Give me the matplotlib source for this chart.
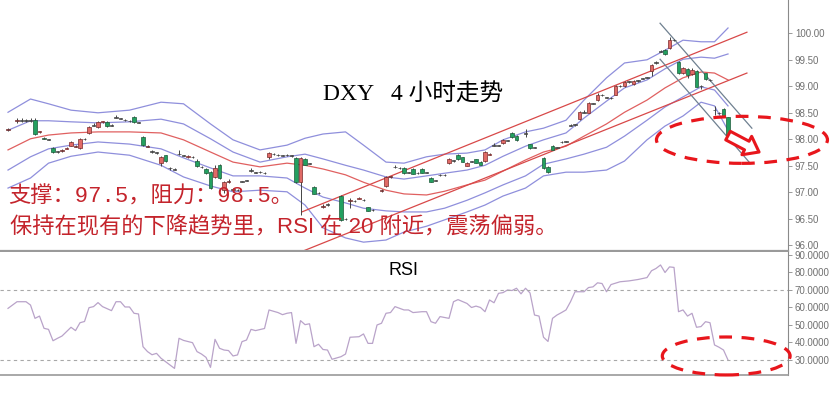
import numpy as np
import matplotlib
matplotlib.use('Agg')
import matplotlib.pyplot as plt
from matplotlib.patches import Ellipse, FancyArrowPatch
from matplotlib.ticker import FormatStrFormatter

plt.rcParams['font.family'] = ['Liberation Sans', 'Noto Sans CJK SC']

# DXY 4h candles: bar number, open, high, low, close
bar = [0, 2, 3, 4, 5, 6, 7, 8, 9, 10, 11, 12, 13, 14, 15, 16, 17, 18, 19, 20,
       21, 22, 23, 24, 25, 26, 27, 28, 29, 30, 31, 32, 33, 34, 35, 36, 37, 38, 39, 40,
       41, 42, 43, 44, 45, 46, 47, 48, 49, 50, 51, 52, 53, 54, 55, 56, 57, 58, 59, 60,
       61, 62, 63, 64, 65, 66, 67, 68, 69, 70, 71, 74, 75, 76, 77, 78, 79, 80, 81, 83,
       84, 85, 86, 87, 88, 89, 90, 91, 92, 93, 94, 95, 96, 97, 98, 99, 100, 101, 102, 103,
       104, 105, 106, 107, 108, 109, 110, 111, 112, 113, 115, 116, 117, 119, 120, 121, 122, 123, 124, 125,
       126, 127, 128, 129, 130, 131, 132, 133, 134, 135, 136, 137, 138, 139, 140, 141, 142, 143, 144, 145,
       146, 147, 148, 149, 150, 151, 152, 153, 154, 155, 156, 157, 158, 159, 160]
opens = [98.17, 98.34, 98.36, 98.36, 98.35, 98.37, 98.13, 98.03, 97.99, 97.84, 97.77, 97.78, 97.82, 97.88, 97.86, 97.83, 98.00, 98.12, 98.26, 98.23,
         98.32, 98.33, 98.26, 98.41, 98.40, 98.36, 98.34, 98.42, 98.32, 98.04, 97.86, 97.76, 97.75, 97.55, 97.70, 97.45, 97.44, 97.72, 97.70, 97.66,
         97.67, 97.60, 97.48, 97.44, 97.38, 97.29, 97.52, 97.04, 97.19, 97.06, 97.05, 97.20, 97.23, 97.40, 97.38, 97.38, 97.37, 97.67, 97.72, 97.70,
         97.70, 97.70, 97.70, 97.65, 97.20, 97.63, 97.55, 97.10, 96.98, 96.73, 96.76, 96.93, 96.49, 96.83, 96.84, 96.88, 96.86, 96.72, 96.67, 97.03,
         97.12, 97.28, 97.47, 97.46, 97.46, 97.37, 97.44, 97.36, 97.44, 97.38, 97.27, 97.22, 97.32, 97.33, 97.55, 97.59, 97.70, 97.66, 97.50, 97.58,
         97.62, 97.58, 97.59, 97.71, 97.88, 97.89, 97.93, 97.97, 98.12, 98.07, 98.10, 97.91, 97.84, 97.65, 97.48, 97.88, 97.85, 97.94, 97.95, 98.26,
         98.27, 98.38, 98.50, 98.50, 98.67, 98.74, 98.84, 98.78, 98.78, 98.84, 99.00, 99.00, 99.08, 99.04, 99.10, 99.15, 99.17, 99.29, 99.44, 99.65,
         99.68, 99.72, 99.87, 99.46, 99.25, 99.33, 99.23, 99.29, 99.00, 99.25, 99.12, 98.55, 98.50, 98.58, 98.42]
highs = [98.21, 98.40, 98.40, 98.39, 98.40, 98.40, 98.16, 98.05, 98.01, 97.86, 97.78, 97.81, 97.86, 97.96, 97.89, 98.02, 98.02, 98.25, 98.30, 98.35,
         98.35, 98.34, 98.28, 98.45, 98.41, 98.38, 98.36, 98.44, 98.33, 98.06, 97.89, 97.80, 97.76, 97.68, 97.71, 97.48, 97.45, 97.80, 97.71, 97.70,
         97.68, 97.62, 97.49, 97.45, 97.40, 97.52, 97.54, 97.22, 97.25, 97.08, 97.06, 97.22, 97.24, 97.45, 97.39, 97.40, 97.38, 97.76, 97.74, 97.73,
         97.71, 97.72, 97.71, 97.67, 97.67, 97.64, 97.56, 97.11, 97.00, 96.78, 96.79, 96.95, 96.52, 96.90, 96.85, 96.91, 96.87, 96.73, 96.68, 97.06,
         97.31, 97.31, 97.52, 97.47, 97.48, 97.39, 97.45, 97.38, 97.45, 97.39, 97.28, 97.24, 97.34, 97.34, 97.64, 97.61, 97.72, 97.67, 97.57, 97.60,
         97.63, 97.59, 97.78, 97.74, 97.93, 97.90, 98.00, 97.99, 98.13, 98.08, 98.20, 97.92, 97.86, 97.67, 97.49, 97.89, 97.86, 97.96, 97.97, 98.28,
         98.29, 98.53, 98.55, 98.70, 98.69, 98.87, 98.85, 98.80, 98.79, 99.02, 99.02, 99.10, 99.10, 99.11, 99.12, 99.16, 99.18, 99.42, 99.48, 99.68,
         99.70, 99.93, 99.90, 99.47, 99.36, 99.34, 99.35, 99.30, 99.02, 99.26, 99.13, 98.62, 98.52, 98.60, 98.43]
lows = [98.15, 98.31, 98.32, 98.32, 98.33, 98.08, 98.12, 98.00, 97.98, 97.74, 97.75, 97.77, 97.81, 97.87, 97.85, 97.82, 97.99, 98.10, 98.25, 98.22,
        98.31, 98.24, 98.25, 98.40, 98.38, 98.35, 98.33, 98.31, 98.30, 97.88, 97.85, 97.74, 97.73, 97.50, 97.58, 97.43, 97.42, 97.70, 97.68, 97.64,
        97.65, 97.48, 97.46, 97.35, 97.06, 97.27, 97.25, 96.98, 97.18, 97.00, 97.03, 97.19, 97.21, 97.39, 97.36, 97.37, 97.35, 97.63, 97.71, 97.69,
        97.68, 97.69, 97.66, 97.18, 96.57, 97.51, 97.53, 96.96, 96.97, 96.70, 96.75, 96.45, 96.47, 96.70, 96.82, 96.87, 96.84, 96.64, 96.65, 97.00,
        97.10, 97.27, 97.46, 97.44, 97.35, 97.36, 97.34, 97.35, 97.36, 97.36, 97.19, 97.21, 97.31, 97.31, 97.54, 97.58, 97.61, 97.57, 97.49, 97.57,
        97.55, 97.51, 97.58, 97.70, 97.87, 97.87, 97.92, 97.96, 98.03, 97.97, 98.05, 97.82, 97.83, 97.44, 97.37, 97.79, 97.83, 97.93, 97.94, 98.25,
        98.26, 98.37, 98.49, 98.49, 98.66, 98.73, 98.82, 98.77, 98.76, 98.83, 98.99, 98.99, 99.07, 99.03, 99.09, 99.13, 99.15, 99.20, 99.43, 99.64,
        99.59, 99.71, 99.86, 99.24, 99.24, 99.16, 99.22, 98.98, 98.95, 99.12, 99.10, 98.45, 98.48, 98.43, 98.03]
closes = [98.19, 98.36, 98.35, 98.35, 98.36, 98.10, 98.15, 98.01, 98.00, 97.76, 97.76, 97.80, 97.84, 97.95, 97.88, 98.00, 98.01, 98.23, 98.27, 98.33,
          98.34, 98.25, 98.27, 98.42, 98.39, 98.37, 98.35, 98.33, 98.31, 97.90, 97.88, 97.77, 97.74, 97.66, 97.60, 97.46, 97.43, 97.73, 97.69, 97.68,
          97.66, 97.50, 97.47, 97.36, 97.08, 97.46, 97.27, 97.20, 97.21, 97.05, 97.04, 97.21, 97.22, 97.41, 97.37, 97.39, 97.36, 97.74, 97.73, 97.71,
          97.69, 97.71, 97.69, 97.20, 97.65, 97.52, 97.54, 96.97, 96.99, 96.75, 96.77, 96.48, 96.50, 96.85, 96.83, 96.90, 96.85, 96.65, 96.66, 97.05,
          97.29, 97.30, 97.48, 97.45, 97.36, 97.38, 97.35, 97.37, 97.37, 97.37, 97.20, 97.23, 97.33, 97.32, 97.62, 97.60, 97.62, 97.58, 97.56, 97.59,
          97.56, 97.52, 97.76, 97.73, 97.89, 97.88, 97.98, 97.98, 98.04, 97.98, 98.11, 97.83, 97.85, 97.45, 97.38, 97.80, 97.84, 97.95, 97.96, 98.27,
          98.28, 98.51, 98.51, 98.68, 98.68, 98.84, 98.83, 98.79, 98.77, 99.00, 99.01, 99.08, 99.09, 99.10, 99.11, 99.14, 99.16, 99.40, 99.45, 99.66,
          99.60, 99.87, 99.88, 99.25, 99.35, 99.21, 99.31, 98.99, 99.01, 99.13, 99.11, 98.56, 98.49, 98.44, 98.04]

# bollinger lines
band_bar = [0, 5, 9, 14, 20, 27, 34, 39, 45, 50, 56, 62, 66, 70, 75, 79, 84, 88, 93, 97,
            102, 106, 110, 115, 119, 124, 128, 133, 137, 142, 146, 150, 154, 157, 160]
band_up2 = [98.51, 98.76, 98.67, 98.55, 98.50, 98.55, 98.70, 98.67, 98.29, 97.99, 97.80, 97.89, 98.02, 98.10, 98.14, 97.89, 97.57, 97.55, 97.67, 97.72,
            97.74, 97.80, 97.99, 98.14, 98.21, 98.36, 98.74, 99.16, 99.44, 99.50, 99.68, 99.87, 99.84, 99.84, 100.10]
band_up1 = [98.17, 98.35, 98.35, 98.33, 98.31, 98.33, 98.38, 98.29, 98.01, 97.76, 97.57, 97.67, 97.72, 97.63, 97.51, 97.42, 97.29, 97.25, 97.31, 97.36,
            97.42, 97.51, 97.68, 97.87, 97.99, 98.12, 98.40, 98.72, 98.97, 99.12, 99.33, 99.51, 99.55, 99.53, 99.61]
band_mid = [97.80, 98.01, 98.08, 98.12, 98.14, 98.14, 98.12, 97.99, 97.76, 97.57, 97.48, 97.55, 97.51, 97.44, 97.33, 97.19, 97.04, 96.97, 96.95, 97.02,
            97.14, 97.23, 97.40, 97.61, 97.76, 97.87, 98.06, 98.29, 98.51, 98.74, 98.97, 99.16, 99.27, 99.25, 99.12]
band_lo1 = [97.42, 97.67, 97.82, 97.89, 97.95, 97.91, 97.82, 97.65, 97.46, 97.31, 97.31, 97.27, 97.08, 96.91, 96.80, 96.70, 96.65, 96.63, 96.63, 96.70,
            96.85, 96.99, 97.14, 97.31, 97.53, 97.63, 97.72, 97.85, 98.06, 98.36, 98.61, 98.80, 98.99, 98.93, 98.63]
band_lo2 = [97.08, 97.27, 97.55, 97.68, 97.76, 97.70, 97.51, 97.29, 97.12, 97.01, 97.04, 97.01, 96.76, 96.33, 96.14, 96.06, 96.10, 96.25, 96.36, 96.48,
            96.63, 96.76, 96.93, 97.08, 97.31, 97.38, 97.38, 97.42, 97.59, 97.99, 98.25, 98.44, 98.70, 98.63, 98.17]

# hand drawn trend lines (bar, price)
chan_top = ([65.3, 164.2], [96.63, 100.02])
chan_bot = ([64.9, 164.2], [95.87, 99.25])
fall_top = ([144.9, 165.3], [100.19, 98.21])
fall_bot = ([144.9, 164.9], [99.51, 97.55])

# RSI
rsi_bar = [0, 2, 4, 5, 6, 7, 8, 9, 10, 11, 12, 14, 15, 16, 17, 18, 19, 20, 21, 23,
           24, 25, 26, 27, 28, 29, 30, 31, 32, 33, 34, 36, 37, 38, 39, 41, 42, 43, 44, 45,
           46, 47, 48, 49, 50, 51, 52, 53, 54, 55, 57, 58, 60, 61, 62, 63, 64, 65, 66, 67,
           68, 69, 70, 71, 72, 74, 75, 76, 78, 79, 80, 81, 82, 83, 84, 85, 86, 88, 89, 90,
           92, 93, 94, 95, 96, 98, 99, 100, 102, 103, 104, 105, 106, 107, 108, 109, 110, 111, 112, 113,
           114, 115, 116, 117, 118, 119, 120, 121, 122, 123, 124, 125, 126, 128, 129, 130, 131, 132, 133, 134,
           136, 138, 140, 142, 143, 144, 145, 146, 147, 148, 149, 150, 151, 152, 153, 154, 155, 156, 157, 158,
           159, 160]
rsi_val = [59.5, 63.3, 63.3, 61.4, 53.8, 55.1, 48.1, 47.5, 41.0, 42.4, 43.7, 48.7, 46.8, 51.3, 52.0, 59.9, 60.5, 62.8, 60.5, 58.2,
           63.3, 63.3, 60.3, 60.3, 56.7, 56.3, 37.6, 34.8, 33.0, 33.8, 31.0, 27.1, 25.2, 42.4, 41.2, 39.9, 34.8, 33.4, 31.5, 25.8,
           41.8, 36.7, 35.7, 35.4, 32.3, 32.9, 40.5, 41.4, 47.5, 46.8, 48.0, 58.6, 57.1, 55.9, 56.7, 57.1, 39.5, 52.5, 50.2, 50.7,
           37.6, 39.0, 36.0, 35.7, 30.4, 31.9, 33.4, 43.0, 43.3, 44.9, 39.5, 39.5, 50.0, 51.0, 56.7, 57.1, 60.5, 58.6, 58.6, 57.1,
           57.6, 57.6, 51.9, 51.0, 54.8, 53.8, 63.3, 64.5, 62.3, 60.0, 60.8, 60.0, 57.6, 64.3, 62.7, 68.1, 68.5, 70.0, 69.7, 71.0,
           67.8, 71.0, 68.3, 55.7, 55.1, 43.0, 40.6, 53.8, 55.7, 57.1, 58.6, 63.3, 69.0, 69.0, 71.4, 71.8, 74.1, 73.7, 69.0, 73.1,
           74.7, 75.2, 76.0, 77.1, 81.0, 82.3, 84.3, 80.0, 83.2, 82.9, 57.6, 58.6, 55.1, 56.7, 48.7, 49.1, 51.9, 51.3, 38.6, 37.3,
           35.7, 30.0]

W, H = 834, 403
fig = plt.figure(figsize=(W / 100, H / 100), dpi=100)
ax = fig.add_axes([0, 1 - 251 / H, 788 / W, 251 / H])
ax2 = fig.add_axes([0, 1 - 375 / H, 788 / W, 123 / H])

blue = '#8f8fdc'
ax.plot(band_bar, band_up2, color=blue, lw=0.9)
ax.plot(band_bar, band_up1, color=blue, lw=0.9)
ax.plot(band_bar, band_lo1, color=blue, lw=0.9)
ax.plot(band_bar, band_lo2, color=blue, lw=0.9)
ax.plot(band_bar, band_mid, color='#e06060', lw=0.9)

ax.plot(*chan_top, color='#d84848', lw=0.9)
ax.plot(*chan_bot, color='#d84848', lw=0.9)
ax.plot(*fall_top, color='#6f8090', lw=0.9)
ax.plot(*fall_bot, color='#6f8090', lw=0.9)

# candles
o = np.array(opens)
c = np.array(closes)
ax.vlines(bar, lows, highs, color='#444444', lw=0.7, zorder=3)
body = np.maximum(np.abs(c - o), 0.012)
cols = []
for oo, cc in zip(o, c):
    if abs(cc - oo) < 0.02:
        cols.append('#5a5a5a')
    elif cc > oo:
        cols.append('#e06a66')
    else:
        cols.append('#23a060')
edge = ['#7a2a2a' if cc > oo + 0.019 else '#1d5a3a' if cc < oo - 0.019 else '#444444' for oo, cc in zip(o, c)]
ax.bar(bar, body, bottom=np.minimum(o, c), width=0.7, color=cols, edgecolor=edge, lw=0.5, zorder=4)

ax.set_xlim(-1.78, 173.33)
ax.set_ylim(95.893, 100.628)
ax.set_xticks([])
ax.yaxis.tick_right()
ax.set_yticks(np.arange(96, 100.01, 0.5))
ax.yaxis.set_major_formatter(FormatStrFormatter('%.2f'))
for s in ['top', 'left']:
    ax.spines[s].set_visible(False)
ax.spines['right'].set_color('#8a8a8a')
ax.spines['bottom'].set_color('#9a9a9a')
ax.spines['bottom'].set_linewidth(1.6)
ax.tick_params(axis='y', direction='out', length=3, width=0.6, color='#8a8a8a',
               labelsize=7, labelcolor='#707070', pad=2)

# dashed ellipse and hollow arrow
ax.add_patch(Ellipse((163.1, 97.99), 38, 0.887, fill=False, ec='#e8161c', lw=2.3,
                     ls=(0, (4, 3)), clip_on=False, zorder=6))
ax.add_patch(FancyArrowPatch((160.0, 98.07), (166.9, 97.76),
                             arrowstyle='simple,tail_width=7,head_width=15,head_length=10',
                             mutation_scale=1, shrinkA=0, shrinkB=0, fc='white', ec='#e8161c',
                             lw=2.2, clip_on=False, zorder=7))

# RSI panel
ax2.plot(rsi_bar, rsi_val, color='#b9a3c9', lw=0.9)
ax2.axhline(70, color='#a8a8a8', lw=0.8, ls=(0, (3, 3)))
ax2.axhline(30, color='#a8a8a8', lw=0.8, ls=(0, (3, 3)))
ax2.set_xlim(-1.78, 173.33)
ax2.set_ylim(21.43, 91.71)
ax2.set_xticks([])
ax2.yaxis.tick_right()
ax2.set_yticks(np.arange(30, 91, 10))
ax2.yaxis.set_major_formatter(FormatStrFormatter('%.4f'))
for s in ['top', 'left']:
    ax2.spines[s].set_visible(False)
ax2.spines['right'].set_color('#8a8a8a')
ax2.spines['bottom'].set_color('#9a9a9a')
ax2.spines['bottom'].set_linewidth(1.2)
ax2.tick_params(axis='y', direction='out', length=3, width=0.6, color='#8a8a8a',
                labelsize=7, labelcolor='#707070', pad=2)
ax2.add_patch(Ellipse((159.6, 32.3), 28.4, 21.7, fill=False, ec='#e8161c', lw=2.3,
                      ls=(0, (4, 3)), clip_on=False, zorder=6))
ax2.text(0.512, 0.85, 'RSI', transform=ax2.transAxes, ha='center', va='center', fontsize=13)

# titles and comments
fig.text(323 / W, 1 - 95 / H, 'DXY   4 小时走势', fontsize=17, va='center', ha='left',
         family=['Liberation Serif', 'Noto Sans CJK SC'])
red = '#c4242c'
fig.text(8 / W, 1 - 197 / H, '支撑：97.5，阻力：98.5。', fontsize=16, va='center', ha='left',
         color=red, family=['Liberation Mono', 'Noto Sans CJK SC'])
fig.text(10 / W, 1 - 228 / H, '保持在现有的下降趋势里，RSI 在 20 附近，震荡偏弱。', fontsize=16,
         va='center', ha='left', color=red, family=['Liberation Sans', 'Noto Sans CJK SC'])

fig.savefig('out.png', dpi=100)
